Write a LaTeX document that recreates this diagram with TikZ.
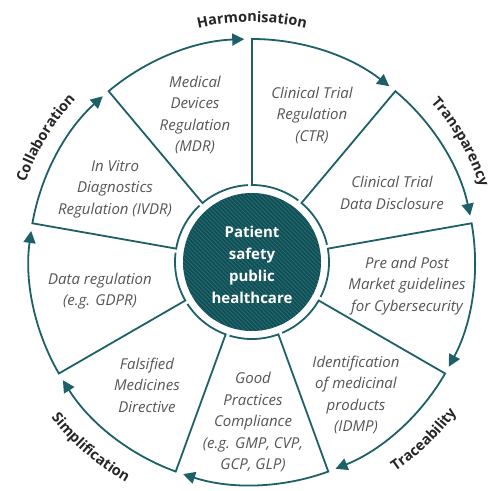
\documentclass[tikz,border=0pt]{standalone}
\usepackage{fontspec}
\setmainfont{Open Sans}
\usetikzlibrary{arrows.meta,decorations.text}
\definecolor{tealline}{HTML}{1D6068}
\definecolor{tealfill}{HTML}{0E4E55}
\definecolor{tealstripe}{HTML}{2A6970}
\definecolor{segtext}{HTML}{555555}
\definecolor{lbltext}{HTML}{262626}
\newcommand\lblfont{\fontsize{14.5}{16}\selectfont\bfseries}
\begin{document}
\begin{tikzpicture}[x=1pt,y=1pt,
  seg/.style={draw=tealline, line width=1.8pt, line join=miter},
  arr/.style={-{Triangle[length=12pt,width=12pt]}},
  segtxt/.style={align=center, text=segtext, font=\fontsize{15}{21.5}\selectfont\itshape},
  lbl/.style={decorate, decoration={text along path, text align=center, text color=lbltext, text={|\lblfont|#1}}}
  ]
\useasboundingbox (-252,-228) rectangle (242,262);
% hub
\fill[tealfill] (0,0) circle (69);
\begin{scope}
  \clip (0,0) circle (69);
  \foreach \k in {-35,...,35} \draw[tealstripe, line width=0.9pt] (\k*4.2-80,80) -- ++(160,-160);
\end{scope}
\node[font=\fontsize{15}{22}\selectfont\bfseries, text=white, align=center] (hub) at (0,-3) {Patient\\safety\\public\\healthcare};
% segments
\foreach \a in {130,90,50,10,-30,-70,-110,-150,-190} {
  \draw[seg,arr] ({\a-37}:77) arc[start angle=\a-37, end angle=\a, radius=77] -- (\a:223) arc[start angle=\a, end angle=\a-38, radius=223];
}
% segment texts
\node[segtxt] (mdr) at (-57,147) {Medical\\Devices\\Regulation\\(MDR)};
\node[segtxt] (ctr) at (60,147) {Clinical Trial\\Regulation\\(CTR)};
\node[segtxt] (ctdd) at (140,69) {Clinical Trial\\Data Disclosure};
\node[segtxt] (cyber) at (155,-24) {Pre and Post\\Market guidelines\\for Cybersecurity};
\node[segtxt] (idmp) at (104,-133) {Identification\\of medicinal\\products\\(IDMP)};
\node[segtxt] (gp) at (1,-160) {Good\\Practices\\Compliance\\(e.g. GMP, CVP,\\GCP, GLP)};
\node[segtxt] (fmd) at (-105,-123) {Falsified\\Medicines\\Directive};
\node[segtxt] (gdpr) at (-152,-29) {Data regulation\\(e.g. GDPR)};
\node[segtxt] (ivdr) at (-137,73) {In Vitro\\Diagnostics\\Regulation (IVDR)};
% arc labels
\path[lbl=Harmonisation] (115:240) arc[start angle=115, end angle=65, radius=240];
\path[lbl=Transparency] (55:240) arc[start angle=55, end angle=5, radius=240];
\path[lbl=Collaboration] (174:240) arc[start angle=174, end angle=124, radius=240];
\path[lbl=Traceability] (-71:254) arc[start angle=-71, end angle=-21, radius=254];
\path[lbl=Simplification] (204:254) arc[start angle=204, end angle=254, radius=254];
\end{tikzpicture}
\end{document}
